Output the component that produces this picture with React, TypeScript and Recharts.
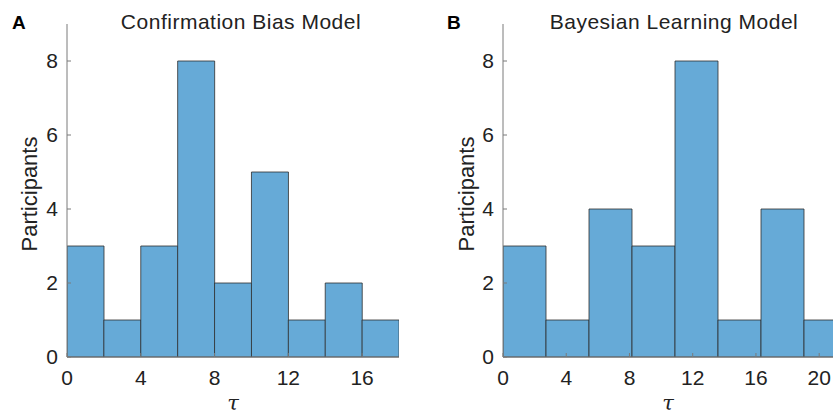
import React from 'react';
import { BarChart, Bar, XAxis, YAxis } from 'recharts';

// histogram bin edges and counts
const edgesA = [0, 2, 4, 6, 8, 10, 12, 14, 16, 18];
const countsA = [3, 1, 3, 8, 2, 5, 1, 2, 1];
const ticksA = [0, 4, 8, 12, 16];

const edgesB = [0, 2.72, 5.44, 8.16, 10.88, 13.6, 16.32, 19.04, 21.76];
const countsB = [3, 1, 4, 3, 8, 1, 4, 1];
const ticksB = [0, 4, 8, 12, 16, 20];

const yTicks = [0, 2, 4, 6, 8];

const FONT = '"Liberation Sans", Arial, Helvetica, sans-serif';
const BAR_FILL = '#66aad7';
const BAR_EDGE = '#2e2e2e';
const AXIS = '#7a7a7a';
const TEXT = '#222';

const toBins = (edges: number[], counts: number[]) =>
  counts.map((c, i) => ({ center: (edges[i] + edges[i + 1]) / 2, count: c }));

interface HistProps {
  edges: number[];
  counts: number[];
  ticks: number[];
  width: number;
  marginLeft: number;
  marginRight: number;
}

const Hist: React.FC<HistProps> = ({ edges, counts, ticks, width, marginLeft, marginRight }) => {
  const data = toBins(edges, counts);
  const tick = { fontSize: 21, fill: TEXT, fontFamily: FONT };
  return (
    <BarChart
      width={width}
      height={418}
      data={data}
      margin={{ top: 24, right: marginRight, bottom: 10, left: marginLeft }}
      barCategoryGap={0}
      barGap={0}
    >
      <XAxis
        type="number"
        dataKey="center"
        domain={[0, edges[edges.length - 1]]}
        ticks={ticks}
        allowDataOverflow
        height={51}
        tick={tick}
        tickSize={-4}
        tickMargin={17}
        axisLine={{ stroke: AXIS }}
        tickLine={{ stroke: AXIS }}
      />
      <YAxis
        domain={[0, 9]}
        ticks={yTicks}
        width={30}
        tick={tick}
        tickSize={-4}
        tickMargin={13}
        axisLine={{ stroke: AXIS }}
        tickLine={{ stroke: AXIS }}
      />
      <Bar dataKey="count" fill={BAR_FILL} stroke={BAR_EDGE} strokeWidth={0.8} isAnimationActive={false} />
    </BarChart>
  );
};

const txt = (extra: React.CSSProperties): React.CSSProperties => ({
  position: 'absolute',
  fontFamily: FONT,
  color: TEXT,
  whiteSpace: 'nowrap',
  lineHeight: 1,
  ...extra,
});

const tau = (left: number): React.CSSProperties =>
  txt({
    left,
    top: 393,
    fontSize: 21,
    fontStyle: 'italic',
    fontFamily: '"DejaVu Serif", "Liberation Serif", serif',
    transform: 'translateX(-50%)',
  });

const App: React.FC = () => {
  return (
    <div
      style={{
        position: 'absolute',
        left: 0,
        top: 0,
        width: 833,
        height: 418,
        overflow: 'hidden',
        background: '#fff',
      }}
    >
      <div style={{ position: 'absolute', left: 0, top: 0 }}>
        <Hist edges={edgesA} counts={countsA} ticks={ticksA} width={420} marginLeft={37} marginRight={21} />
      </div>
      <div style={{ position: 'absolute', left: 420, top: 0 }}>
        <Hist edges={edgesB} counts={countsB} ticks={ticksB} width={440} marginLeft={53} marginRight={13} />
      </div>

      <div style={txt({ left: 12, top: 13, fontSize: 19, fontWeight: 'bold', color: '#000' })}>A</div>
      <div style={txt({ left: 447, top: 13, fontSize: 19, fontWeight: 'bold', color: '#000' })}>B</div>

      <div style={txt({ left: 241, top: 11, fontSize: 21, letterSpacing: 0.5, transform: 'translateX(-50%)' })}>
        Confirmation Bias Model
      </div>
      <div style={txt({ left: 674, top: 11, fontSize: 21, letterSpacing: 0.5, transform: 'translateX(-50%)' })}>
        Bayesian Learning Model
      </div>

      <div style={txt({ left: 30, top: 194, fontSize: 22, transform: 'translate(-50%, -50%) rotate(-90deg)' })}>
        Participants
      </div>
      <div style={txt({ left: 467, top: 194, fontSize: 22, transform: 'translate(-50%, -50%) rotate(-90deg)' })}>
        Participants
      </div>

      <div style={tau(233)}>τ</div>
      <div style={tau(668)}>τ</div>
    </div>
  );
};

export default App;
